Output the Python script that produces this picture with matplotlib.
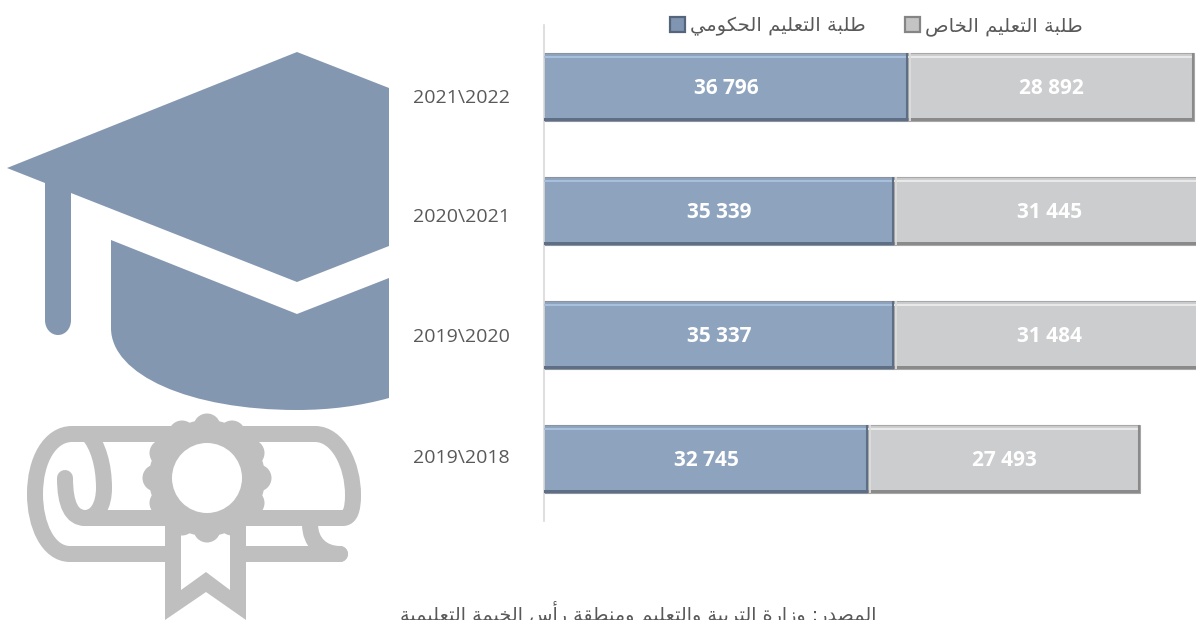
"""Students in government and private education, stacked bars next to two icons."""

import matplotlib

matplotlib.use("Agg")
import matplotlib.pyplot as plt
from matplotlib.patches import Circle, PathPatch, Polygon
from matplotlib.path import Path
from matplotlib.transforms import ScaledTranslation

years = ["2021\\2022", "2020\\2021", "2019\\2020", "2019\\2018"]
government = [36796, 35339, 35337, 32745]
private = [28892, 31445, 31484, 27493]
label_shift_px = [9, 4, 0, -3]

name_government = "طلبة التعليم الحكومي"
name_private = "طلبة التعليم الخاص"
source_text = "المصدر: وزارة التربية والتعليم ومنطقة رأس الخيمة التعليمية"

C_BLUE = "#8EA3BE"
C_GRAY = "#CBCDCF"
C_CAP = "#8497B0"
C_ICON = "#BFBFBF"
C_TEXT = "#595959"

W, H = 1196, 620
PX = 72 / 100  # points per pixel at dpi 100

# presentation forms: isolated, final, initial, medial
FORMS = {
    "ا": (0xFE8D, 0xFE8E), "أ": (0xFE83, 0xFE84), "ب": (0xFE8F, 0xFE90, 0xFE91, 0xFE92),
    "ة": (0xFE93, 0xFE94), "ت": (0xFE95, 0xFE96, 0xFE97, 0xFE98),
    "ح": (0xFEA1, 0xFEA2, 0xFEA3, 0xFEA4), "خ": (0xFEA5, 0xFEA6, 0xFEA7, 0xFEA8),
    "د": (0xFEA9, 0xFEAA), "ر": (0xFEAD, 0xFEAE), "ز": (0xFEAF, 0xFEB0),
    "س": (0xFEB1, 0xFEB2, 0xFEB3, 0xFEB4), "ص": (0xFEB9, 0xFEBA, 0xFEBB, 0xFEBC),
    "ط": (0xFEC1, 0xFEC2, 0xFEC3, 0xFEC4), "ع": (0xFEC9, 0xFECA, 0xFECB, 0xFECC),
    "ق": (0xFED5, 0xFED6, 0xFED7, 0xFED8), "ك": (0xFED9, 0xFEDA, 0xFEDB, 0xFEDC),
    "ل": (0xFEDD, 0xFEDE, 0xFEDF, 0xFEE0), "م": (0xFEE1, 0xFEE2, 0xFEE3, 0xFEE4),
    "ن": (0xFEE5, 0xFEE6, 0xFEE7, 0xFEE8), "و": (0xFEED, 0xFEEE),
    "ي": (0xFEF1, 0xFEF2, 0xFEF3, 0xFEF4),
}


def shape(text):
    # matplotlib has no Arabic shaping, so pick the joined glyphs and reverse
    out = []
    for i, ch in enumerate(text):
        forms = FORMS.get(ch)
        if forms is None:
            out.append(ch)
            continue
        prev = text[i - 1] if i > 0 else ""
        nxt = text[i + 1] if i + 1 < len(text) else ""
        joins_prev = prev in FORMS and len(FORMS[prev]) == 4
        joins_next = nxt in FORMS and len(forms) == 4
        if joins_prev and joins_next:
            idx = 3
        elif joins_next:
            idx = 2
        elif joins_prev:
            idx = 1
        else:
            idx = 0
        out.append(chr(forms[idx]))
    return "".join(reversed(out))


def stroke(ax, verts, codes):
    ax.add_patch(PathPatch(Path(verts, codes), fill=False, edgecolor=C_ICON, lw=16 * PX,
                           capstyle="round", joinstyle="round"))


def draw_cap(ax):
    M, L, C = Path.MOVETO, Path.LINETO, Path.CURVE4
    top = [(297, 52), (389, 88), (389, 246), (297, 282), (71, 193), (71, 320)]
    ax.add_patch(PathPatch(Path(
        top + [(71, 329), (65, 335), (58, 335), (51, 335), (45, 329), (45, 320),
               (45, 183), (7, 168), (297, 52)],
        [M, L, L, L, L, L, C, C, C, C, C, C, L, L, L]), facecolor=C_CAP, edgecolor="none"))
    ax.add_patch(PathPatch(Path(
        [(111, 240), (297, 314), (389, 278), (389, 398), (360, 406), (330, 410), (297, 410),
         (190, 410), (111, 375), (111, 328), (111, 240)],
        [M, L, L, L, C, C, C, C, C, C, L]), facecolor=C_CAP, edgecolor="none"))


def draw_diploma(ax):
    M, L, C = Path.MOVETO, Path.LINETO, Path.CURVE4
    # outer scroll, from bottom curl round the left side to the right side
    stroke(ax, [(340, 554), (70, 554), (48, 554), (35, 525), (35, 494), (35, 460), (50, 434), (72, 434),
                (315, 434), (338, 434), (353, 465), (353, 495), (353, 510), (350, 518), (343, 518),
                (85, 518)],
           [M, L, C, C, C, C, C, C, L, C, C, C, C, C, C, L])
    # inner spiral
    stroke(ax, [(65, 478), (65, 505), (72, 518), (85, 518), (97, 518), (104, 505), (104, 488),
                (104, 465), (98, 445), (88, 434)],
           [M, C, C, C, C, C, C, C, C, C])
    # tail that runs into the bottom line
    stroke(ax, [(310, 524), (310, 542), (322, 554), (340, 554)], [M, C, C, C])
    # ribbon
    ax.add_patch(Polygon([(165, 520), (246, 520), (246, 620), (206, 592), (165, 620)],
                         facecolor=C_ICON, edgecolor="none"))
    ax.add_patch(Polygon([(181, 530), (230, 530), (230, 590), (206, 572), (181, 590)],
                         facecolor="white", edgecolor="none"))
    # rosette
    cx, cy = 207, 478
    lobes = [(0, -51), (25, -44), (44, -25), (51, 0), (44, 25), (25, 44), (0, 51), (-25, 44), (-44, 25),
             (-51, 0), (-44, -25), (-25, -44)]
    for dx, dy in lobes:
        ax.add_patch(Circle((cx + dx, cy + dy), 13.5, facecolor=C_ICON, edgecolor="none"))
    ax.add_patch(Circle((cx, cy), 58, facecolor=C_ICON, edgecolor="none"))
    ax.add_patch(Circle((cx, cy), 35, facecolor="white", edgecolor="none"))


def bevel(ax, y, left, width, height, light, dark, left_light=None):
    strip = 3 / 124
    ax.barh(y - height / 2 + 1.8 * strip / 2 + strip / 3, width, left=left, height=strip * 0.7,
            color=light, zorder=3)
    ax.barh(y + height / 2 - strip / 2, width, left=left, height=strip * 0.8, color=dark, zorder=3)
    ax.vlines(left + width - 100, y - height / 2, y + height / 2, color=dark, lw=1.5, zorder=4)
    if left_light:
        ax.vlines(left + 230, y - height / 2, y + height / 2, color=left_light, lw=1.3, zorder=4)


def main():
    fig = plt.figure(figsize=(W / 100, H / 100), dpi=100)

    over = fig.add_axes([0, 0, 1, 1])
    over.set_xlim(0, W)
    over.set_ylim(H, 0)
    over.axis("off")
    draw_cap(over)
    draw_diploma(over)

    ax = fig.add_axes([544 / W, 1 - 521 / H, (W - 544) / W, 496 / H])
    ax.patch.set_alpha(0)
    y = list(range(len(years)))
    h = 0.55
    bars_gov = ax.barh(y, government, height=h, color=C_BLUE, edgecolor="#8C939E", linewidth=0.8,
                       label=shape(name_government), zorder=2)
    bars_pri = ax.barh(y, private, left=government, height=h, color=C_GRAY, edgecolor="#A8A8A8",
                       linewidth=0.8, label=shape(name_private), zorder=2)
    for i in y:
        bevel(ax, i, 0, government[i], h, "#A9C0DC", "#5E6F85")
        bevel(ax, i, government[i], private[i], h, "#E9E9E9", "#8A8A8A", left_light="#DCDCDC")
        ax.text(government[i] / 2, i + 0.01, f"{government[i]:,}".replace(",", " "), ha="center", va="center",
                color="white", fontsize=15, fontweight="bold", family="Open Sans", zorder=5)
        ax.text(government[i] + private[i] / 2, i + 0.01, f"{private[i]:,}".replace(",", " "), ha="center",
                va="center", color="white", fontsize=15, fontweight="bold", family="Open Sans", zorder=5)

    ax.set_xlim(0, (W - 544) / 0.009895)
    ax.set_ylim(len(years) - 0.5, -0.5)
    ax.set_xticks([])
    ax.set_yticks(y)
    ax.set_yticklabels(years, fontsize=14, color=C_TEXT, family="Open Sans")
    ax.tick_params(axis="y", length=0, pad=34 * PX)
    for lbl, dy in zip(ax.get_yticklabels(), label_shift_px):
        lbl.set_transform(lbl.get_transform() + ScaledTranslation(0, -dy / 100, fig.dpi_scale_trans))
    for side in ("top", "right", "bottom"):
        ax.spines[side].set_visible(False)
    ax.spines["left"].set_color("#D9D9D9")
    ax.spines["left"].set_linewidth(1.2)

    leg = ax.legend(handles=[bars_gov, bars_pri], ncol=2, loc="center left", frameon=False,
                    bbox_to_anchor=((670 - 544) / (W - 544), 1 + (25 - 26) / 496),
                    prop={"family": "DejaVu Sans", "size": 14}, handlelength=0.75, handleheight=0.75,
                    handletextpad=0.3, columnspacing=2.0, labelcolor=C_TEXT, borderpad=0, borderaxespad=0)
    for patch, face, edge in zip(leg.get_patches(), ["#7F95B2", "#C4C4C4"], ["#55667C", "#858585"]):
        patch.set_facecolor(face)
        patch.set_edgecolor(edge)
        patch.set_linewidth(1.6)

    over.text(638, 620.5, shape(source_text), ha="center", va="baseline", fontsize=13.8, color=C_TEXT,
              family="DejaVu Sans")

    fig.savefig("out.png", dpi=100)


if __name__ == "__main__":
    main()
